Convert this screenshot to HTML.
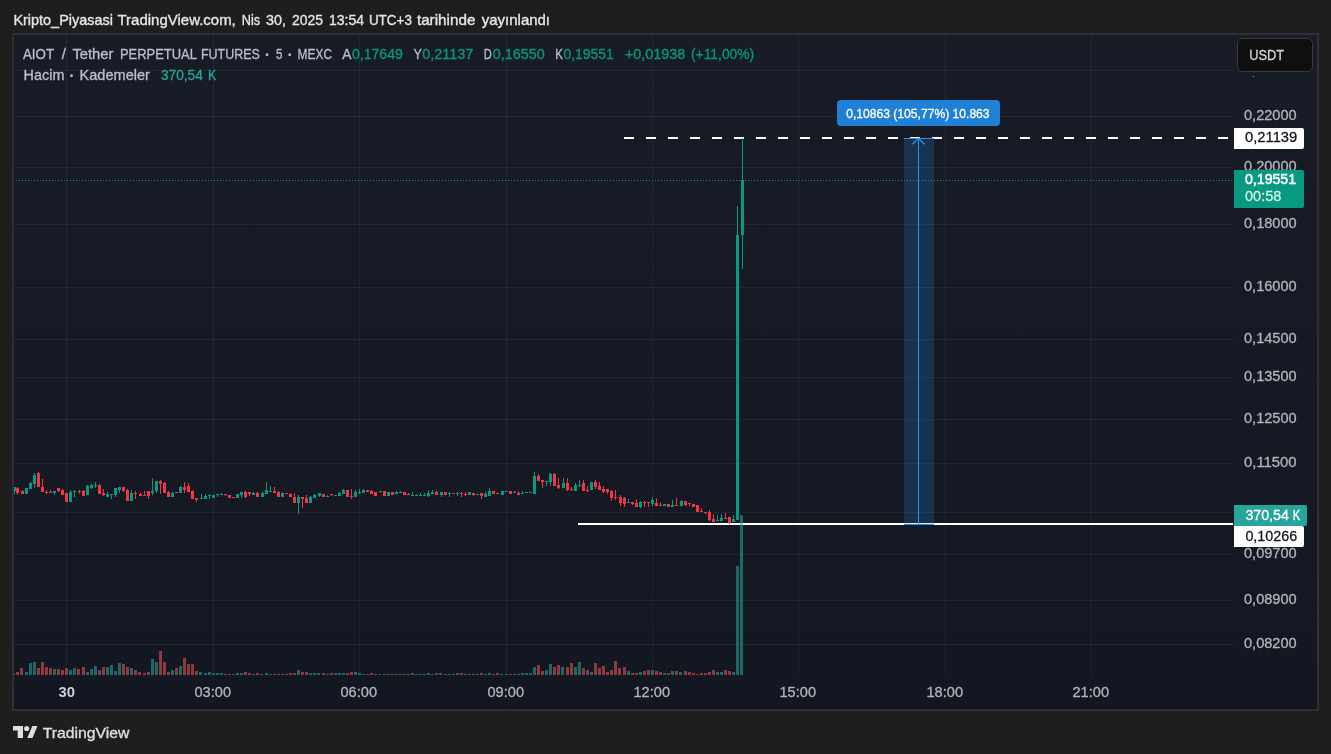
<!DOCTYPE html>
<html lang="tr"><head><meta charset="utf-8"><title>AIOT / Tether PERPETUAL FUTURES</title>
<style>
html,body{margin:0;padding:0;background:#1e1e1e;}
body{width:1331px;height:754px;overflow:hidden;position:relative;font-family:"Liberation Sans",sans-serif;}
svg{position:absolute;left:0;top:0;display:block;will-change:transform}
text{font-family:"Liberation Sans",sans-serif;white-space:pre}
</style></head><body>
<svg width="1331" height="754" viewBox="0 0 1331 754">
<defs>
<linearGradient id="bg" x1="0" y1="0" x2="0" y2="1"><stop offset="0" stop-color="#181c27"/><stop offset="1" stop-color="#131722"/></linearGradient>
<clipPath id="pane"><rect x="14" y="35" width="1219" height="640"/></clipPath>
<pattern id="dots" x="1" y="0" width="3" height="1" patternUnits="userSpaceOnUse"><rect x="0" y="0" width="1" height="1" fill="#089981"/></pattern>
</defs>
<rect x="0" y="0" width="1331" height="754" fill="#1e1e1e"/>
<rect x="12" y="33" width="1307" height="678" fill="#303034"/>
<rect x="14" y="35" width="1303" height="674" fill="url(#bg)"/>
<g shape-rendering="crispEdges" fill="rgba(240,243,250,0.06)">
<rect x="66" y="35" width="1" height="640"/>
<rect x="213" y="35" width="1" height="640"/>
<rect x="359" y="35" width="1" height="640"/>
<rect x="506" y="35" width="1" height="640"/>
<rect x="652" y="35" width="1" height="640"/>
<rect x="798" y="35" width="1" height="640"/>
<rect x="945" y="35" width="1" height="640"/>
<rect x="1091" y="35" width="1" height="640"/>
<rect x="14" y="70" width="1219" height="1"/>
<rect x="14" y="116" width="1219" height="1"/>
<rect x="14" y="167" width="1219" height="1"/>
<rect x="14" y="224" width="1219" height="1"/>
<rect x="14" y="287" width="1219" height="1"/>
<rect x="14" y="339" width="1219" height="1"/>
<rect x="14" y="377" width="1219" height="1"/>
<rect x="14" y="419" width="1219" height="1"/>
<rect x="14" y="463" width="1219" height="1"/>
<rect x="14" y="512" width="1219" height="1"/>
<rect x="14" y="554" width="1219" height="1"/>
<rect x="14" y="600" width="1219" height="1"/>
<rect x="14" y="644" width="1219" height="1"/>
</g>
<g shape-rendering="crispEdges">
<rect x="578" y="523" width="655" height="2" fill="#ffffff"/>
</g>
<g shape-rendering="crispEdges" fill="#ffffff">
<rect x="624" y="137" width="10" height="2"/>
<rect x="646" y="137" width="10" height="2"/>
<rect x="668" y="137" width="10" height="2"/>
<rect x="690" y="137" width="10" height="2"/>
<rect x="712" y="137" width="10" height="2"/>
<rect x="734" y="137" width="10" height="2"/>
<rect x="756" y="137" width="10" height="2"/>
<rect x="778" y="137" width="10" height="2"/>
<rect x="800" y="137" width="10" height="2"/>
<rect x="822" y="137" width="10" height="2"/>
<rect x="844" y="137" width="10" height="2"/>
<rect x="866" y="137" width="10" height="2"/>
<rect x="888" y="137" width="10" height="2"/>
<rect x="910" y="137" width="10" height="2"/>
<rect x="932" y="137" width="10" height="2"/>
<rect x="954" y="137" width="10" height="2"/>
<rect x="976" y="137" width="10" height="2"/>
<rect x="998" y="137" width="10" height="2"/>
<rect x="1020" y="137" width="10" height="2"/>
<rect x="1042" y="137" width="10" height="2"/>
<rect x="1064" y="137" width="10" height="2"/>
<rect x="1086" y="137" width="10" height="2"/>
<rect x="1108" y="137" width="10" height="2"/>
<rect x="1130" y="137" width="10" height="2"/>
<rect x="1152" y="137" width="10" height="2"/>
<rect x="1174" y="137" width="10" height="2"/>
<rect x="1196" y="137" width="10" height="2"/>
<rect x="1218" y="137" width="10" height="2"/>
</g>
<g shape-rendering="crispEdges" clip-path="url(#pane)">
<rect x="12" y="673" width="3" height="2" fill="rgba(38,166,154,0.57)"/>
<rect x="16" y="672" width="3" height="3" fill="rgba(239,83,80,0.57)"/>
<rect x="20" y="668" width="3" height="7" fill="rgba(239,83,80,0.57)"/>
<rect x="25" y="672" width="3" height="3" fill="rgba(38,166,154,0.57)"/>
<rect x="29" y="663" width="3" height="12" fill="rgba(38,166,154,0.57)"/>
<rect x="33" y="662" width="3" height="13" fill="rgba(38,166,154,0.57)"/>
<rect x="37" y="668" width="3" height="7" fill="rgba(239,83,80,0.57)"/>
<rect x="41" y="662" width="3" height="13" fill="rgba(239,83,80,0.57)"/>
<rect x="45" y="667" width="3" height="8" fill="rgba(239,83,80,0.57)"/>
<rect x="49" y="668" width="3" height="7" fill="rgba(239,83,80,0.57)"/>
<rect x="53" y="669" width="3" height="6" fill="rgba(38,166,154,0.57)"/>
<rect x="57" y="669" width="3" height="6" fill="rgba(239,83,80,0.57)"/>
<rect x="61" y="670" width="3" height="5" fill="rgba(239,83,80,0.57)"/>
<rect x="65" y="668" width="3" height="7" fill="rgba(239,83,80,0.57)"/>
<rect x="69" y="670" width="3" height="5" fill="rgba(38,166,154,0.57)"/>
<rect x="73" y="668" width="3" height="7" fill="rgba(38,166,154,0.57)"/>
<rect x="77" y="669" width="3" height="6" fill="rgba(239,83,80,0.57)"/>
<rect x="82" y="667" width="3" height="8" fill="rgba(239,83,80,0.57)"/>
<rect x="86" y="672" width="3" height="3" fill="rgba(38,166,154,0.57)"/>
<rect x="90" y="669" width="3" height="6" fill="rgba(38,166,154,0.57)"/>
<rect x="94" y="666" width="3" height="9" fill="rgba(38,166,154,0.57)"/>
<rect x="98" y="670" width="3" height="5" fill="rgba(239,83,80,0.57)"/>
<rect x="102" y="667" width="3" height="8" fill="rgba(239,83,80,0.57)"/>
<rect x="106" y="667" width="3" height="8" fill="rgba(38,166,154,0.57)"/>
<rect x="110" y="665" width="3" height="10" fill="rgba(38,166,154,0.57)"/>
<rect x="114" y="671" width="3" height="4" fill="rgba(38,166,154,0.57)"/>
<rect x="118" y="663" width="3" height="12" fill="rgba(38,166,154,0.57)"/>
<rect x="122" y="664" width="3" height="11" fill="rgba(239,83,80,0.57)"/>
<rect x="126" y="667" width="3" height="8" fill="rgba(239,83,80,0.57)"/>
<rect x="130" y="668" width="3" height="7" fill="rgba(38,166,154,0.57)"/>
<rect x="134" y="670" width="3" height="5" fill="rgba(239,83,80,0.57)"/>
<rect x="138" y="672" width="3" height="3" fill="rgba(239,83,80,0.57)"/>
<rect x="143" y="673" width="3" height="2" fill="rgba(239,83,80,0.57)"/>
<rect x="147" y="672" width="3" height="3" fill="rgba(239,83,80,0.57)"/>
<rect x="151" y="659" width="3" height="16" fill="rgba(38,166,154,0.57)"/>
<rect x="155" y="662" width="3" height="13" fill="rgba(38,166,154,0.57)"/>
<rect x="159" y="651" width="3" height="24" fill="rgba(239,83,80,0.57)"/>
<rect x="163" y="662" width="3" height="13" fill="rgba(239,83,80,0.57)"/>
<rect x="167" y="672" width="3" height="3" fill="rgba(239,83,80,0.57)"/>
<rect x="171" y="670" width="3" height="5" fill="rgba(38,166,154,0.57)"/>
<rect x="175" y="668" width="3" height="7" fill="rgba(239,83,80,0.57)"/>
<rect x="179" y="666" width="3" height="9" fill="rgba(38,166,154,0.57)"/>
<rect x="183" y="658" width="3" height="17" fill="rgba(239,83,80,0.57)"/>
<rect x="187" y="664" width="3" height="11" fill="rgba(239,83,80,0.57)"/>
<rect x="191" y="664" width="3" height="11" fill="rgba(239,83,80,0.57)"/>
<rect x="195" y="671" width="3" height="4" fill="rgba(239,83,80,0.57)"/>
<rect x="199" y="672" width="3" height="3" fill="rgba(38,166,154,0.57)"/>
<rect x="204" y="673" width="3" height="2" fill="rgba(38,166,154,0.57)"/>
<rect x="208" y="672" width="3" height="3" fill="rgba(38,166,154,0.57)"/>
<rect x="212" y="673" width="3" height="2" fill="rgba(38,166,154,0.57)"/>
<rect x="216" y="673" width="3" height="2" fill="rgba(38,166,154,0.57)"/>
<rect x="220" y="673" width="3" height="2" fill="rgba(38,166,154,0.57)"/>
<rect x="224" y="674" width="3" height="1" fill="rgba(239,83,80,0.57)"/>
<rect x="228" y="674" width="3" height="1" fill="rgba(239,83,80,0.57)"/>
<rect x="232" y="674" width="3" height="1" fill="rgba(239,83,80,0.57)"/>
<rect x="236" y="673" width="3" height="2" fill="rgba(38,166,154,0.57)"/>
<rect x="240" y="673" width="3" height="2" fill="rgba(38,166,154,0.57)"/>
<rect x="244" y="672" width="3" height="3" fill="rgba(239,83,80,0.57)"/>
<rect x="248" y="673" width="3" height="2" fill="rgba(239,83,80,0.57)"/>
<rect x="252" y="674" width="3" height="1" fill="rgba(38,166,154,0.57)"/>
<rect x="256" y="673" width="3" height="2" fill="rgba(239,83,80,0.57)"/>
<rect x="260" y="674" width="3" height="1" fill="rgba(38,166,154,0.57)"/>
<rect x="265" y="673" width="3" height="2" fill="rgba(38,166,154,0.57)"/>
<rect x="269" y="674" width="3" height="1" fill="rgba(38,166,154,0.57)"/>
<rect x="273" y="674" width="3" height="1" fill="rgba(239,83,80,0.57)"/>
<rect x="277" y="674" width="3" height="1" fill="rgba(239,83,80,0.57)"/>
<rect x="281" y="674" width="3" height="1" fill="rgba(38,166,154,0.57)"/>
<rect x="285" y="674" width="3" height="1" fill="rgba(239,83,80,0.57)"/>
<rect x="289" y="673" width="3" height="2" fill="rgba(239,83,80,0.57)"/>
<rect x="293" y="673" width="3" height="2" fill="rgba(239,83,80,0.57)"/>
<rect x="297" y="670" width="3" height="5" fill="rgba(38,166,154,0.57)"/>
<rect x="301" y="672" width="3" height="3" fill="rgba(239,83,80,0.57)"/>
<rect x="305" y="672" width="3" height="3" fill="rgba(239,83,80,0.57)"/>
<rect x="309" y="673" width="3" height="2" fill="rgba(38,166,154,0.57)"/>
<rect x="313" y="673" width="3" height="2" fill="rgba(38,166,154,0.57)"/>
<rect x="317" y="673" width="3" height="2" fill="rgba(38,166,154,0.57)"/>
<rect x="322" y="673" width="3" height="2" fill="rgba(239,83,80,0.57)"/>
<rect x="326" y="674" width="3" height="1" fill="rgba(38,166,154,0.57)"/>
<rect x="330" y="673" width="3" height="2" fill="rgba(239,83,80,0.57)"/>
<rect x="334" y="673" width="3" height="2" fill="rgba(38,166,154,0.57)"/>
<rect x="338" y="673" width="3" height="2" fill="rgba(38,166,154,0.57)"/>
<rect x="342" y="673" width="3" height="2" fill="rgba(38,166,154,0.57)"/>
<rect x="346" y="673" width="3" height="2" fill="rgba(239,83,80,0.57)"/>
<rect x="350" y="672" width="3" height="3" fill="rgba(239,83,80,0.57)"/>
<rect x="354" y="672" width="3" height="3" fill="rgba(38,166,154,0.57)"/>
<rect x="358" y="673" width="3" height="2" fill="rgba(38,166,154,0.57)"/>
<rect x="362" y="674" width="3" height="1" fill="rgba(38,166,154,0.57)"/>
<rect x="366" y="674" width="3" height="1" fill="rgba(239,83,80,0.57)"/>
<rect x="370" y="673" width="3" height="2" fill="rgba(239,83,80,0.57)"/>
<rect x="374" y="674" width="3" height="1" fill="rgba(239,83,80,0.57)"/>
<rect x="378" y="674" width="3" height="1" fill="rgba(38,166,154,0.57)"/>
<rect x="383" y="674" width="3" height="1" fill="rgba(239,83,80,0.57)"/>
<rect x="387" y="674" width="3" height="1" fill="rgba(38,166,154,0.57)"/>
<rect x="391" y="674" width="3" height="1" fill="rgba(239,83,80,0.57)"/>
<rect x="395" y="674" width="3" height="1" fill="rgba(38,166,154,0.57)"/>
<rect x="399" y="674" width="3" height="1" fill="rgba(38,166,154,0.57)"/>
<rect x="403" y="674" width="3" height="1" fill="rgba(239,83,80,0.57)"/>
<rect x="407" y="674" width="3" height="1" fill="rgba(239,83,80,0.57)"/>
<rect x="411" y="673" width="3" height="2" fill="rgba(38,166,154,0.57)"/>
<rect x="415" y="674" width="3" height="1" fill="rgba(38,166,154,0.57)"/>
<rect x="419" y="674" width="3" height="1" fill="rgba(38,166,154,0.57)"/>
<rect x="423" y="674" width="3" height="1" fill="rgba(38,166,154,0.57)"/>
<rect x="427" y="673" width="3" height="2" fill="rgba(38,166,154,0.57)"/>
<rect x="431" y="674" width="3" height="1" fill="rgba(38,166,154,0.57)"/>
<rect x="435" y="673" width="3" height="2" fill="rgba(239,83,80,0.57)"/>
<rect x="439" y="673" width="3" height="2" fill="rgba(38,166,154,0.57)"/>
<rect x="444" y="674" width="3" height="1" fill="rgba(239,83,80,0.57)"/>
<rect x="448" y="674" width="3" height="1" fill="rgba(38,166,154,0.57)"/>
<rect x="452" y="674" width="3" height="1" fill="rgba(239,83,80,0.57)"/>
<rect x="456" y="673" width="3" height="2" fill="rgba(38,166,154,0.57)"/>
<rect x="460" y="673" width="3" height="2" fill="rgba(239,83,80,0.57)"/>
<rect x="464" y="674" width="3" height="1" fill="rgba(239,83,80,0.57)"/>
<rect x="468" y="674" width="3" height="1" fill="rgba(38,166,154,0.57)"/>
<rect x="472" y="674" width="3" height="1" fill="rgba(239,83,80,0.57)"/>
<rect x="476" y="674" width="3" height="1" fill="rgba(38,166,154,0.57)"/>
<rect x="480" y="673" width="3" height="2" fill="rgba(239,83,80,0.57)"/>
<rect x="484" y="674" width="3" height="1" fill="rgba(38,166,154,0.57)"/>
<rect x="488" y="673" width="3" height="2" fill="rgba(38,166,154,0.57)"/>
<rect x="492" y="674" width="3" height="1" fill="rgba(239,83,80,0.57)"/>
<rect x="496" y="673" width="3" height="2" fill="rgba(239,83,80,0.57)"/>
<rect x="500" y="674" width="3" height="1" fill="rgba(38,166,154,0.57)"/>
<rect x="505" y="674" width="3" height="1" fill="rgba(38,166,154,0.57)"/>
<rect x="509" y="674" width="3" height="1" fill="rgba(239,83,80,0.57)"/>
<rect x="513" y="674" width="3" height="1" fill="rgba(38,166,154,0.57)"/>
<rect x="517" y="674" width="3" height="1" fill="rgba(239,83,80,0.57)"/>
<rect x="521" y="673" width="3" height="2" fill="rgba(38,166,154,0.57)"/>
<rect x="525" y="673" width="3" height="2" fill="rgba(38,166,154,0.57)"/>
<rect x="529" y="673" width="3" height="2" fill="rgba(38,166,154,0.57)"/>
<rect x="533" y="667" width="3" height="8" fill="rgba(38,166,154,0.57)"/>
<rect x="537" y="665" width="3" height="10" fill="rgba(239,83,80,0.57)"/>
<rect x="541" y="671" width="3" height="4" fill="rgba(239,83,80,0.57)"/>
<rect x="545" y="670" width="3" height="5" fill="rgba(38,166,154,0.57)"/>
<rect x="549" y="664" width="3" height="11" fill="rgba(38,166,154,0.57)"/>
<rect x="553" y="667" width="3" height="8" fill="rgba(239,83,80,0.57)"/>
<rect x="557" y="665" width="3" height="10" fill="rgba(239,83,80,0.57)"/>
<rect x="561" y="667" width="3" height="8" fill="rgba(38,166,154,0.57)"/>
<rect x="566" y="667" width="3" height="8" fill="rgba(239,83,80,0.57)"/>
<rect x="570" y="663" width="3" height="12" fill="rgba(239,83,80,0.57)"/>
<rect x="574" y="667" width="3" height="8" fill="rgba(38,166,154,0.57)"/>
<rect x="578" y="662" width="3" height="13" fill="rgba(38,166,154,0.57)"/>
<rect x="582" y="668" width="3" height="7" fill="rgba(239,83,80,0.57)"/>
<rect x="586" y="670" width="3" height="5" fill="rgba(239,83,80,0.57)"/>
<rect x="590" y="672" width="3" height="3" fill="rgba(38,166,154,0.57)"/>
<rect x="594" y="663" width="3" height="12" fill="rgba(239,83,80,0.57)"/>
<rect x="598" y="668" width="3" height="7" fill="rgba(239,83,80,0.57)"/>
<rect x="602" y="666" width="3" height="9" fill="rgba(239,83,80,0.57)"/>
<rect x="606" y="672" width="3" height="3" fill="rgba(239,83,80,0.57)"/>
<rect x="610" y="670" width="3" height="5" fill="rgba(239,83,80,0.57)"/>
<rect x="614" y="661" width="3" height="14" fill="rgba(239,83,80,0.57)"/>
<rect x="618" y="668" width="3" height="7" fill="rgba(239,83,80,0.57)"/>
<rect x="623" y="667" width="3" height="8" fill="rgba(239,83,80,0.57)"/>
<rect x="627" y="671" width="3" height="4" fill="rgba(38,166,154,0.57)"/>
<rect x="631" y="673" width="3" height="2" fill="rgba(239,83,80,0.57)"/>
<rect x="635" y="673" width="3" height="2" fill="rgba(239,83,80,0.57)"/>
<rect x="639" y="672" width="3" height="3" fill="rgba(38,166,154,0.57)"/>
<rect x="643" y="671" width="3" height="4" fill="rgba(239,83,80,0.57)"/>
<rect x="647" y="670" width="3" height="5" fill="rgba(239,83,80,0.57)"/>
<rect x="651" y="670" width="3" height="5" fill="rgba(38,166,154,0.57)"/>
<rect x="655" y="671" width="3" height="4" fill="rgba(239,83,80,0.57)"/>
<rect x="659" y="672" width="3" height="3" fill="rgba(239,83,80,0.57)"/>
<rect x="663" y="673" width="3" height="2" fill="rgba(38,166,154,0.57)"/>
<rect x="667" y="673" width="3" height="2" fill="rgba(239,83,80,0.57)"/>
<rect x="671" y="671" width="3" height="4" fill="rgba(38,166,154,0.57)"/>
<rect x="675" y="671" width="3" height="4" fill="rgba(239,83,80,0.57)"/>
<rect x="679" y="672" width="3" height="3" fill="rgba(38,166,154,0.57)"/>
<rect x="684" y="671" width="3" height="4" fill="rgba(239,83,80,0.57)"/>
<rect x="688" y="672" width="3" height="3" fill="rgba(239,83,80,0.57)"/>
<rect x="692" y="673" width="3" height="2" fill="rgba(239,83,80,0.57)"/>
<rect x="696" y="674" width="3" height="1" fill="rgba(239,83,80,0.57)"/>
<rect x="700" y="673" width="3" height="2" fill="rgba(239,83,80,0.57)"/>
<rect x="704" y="673" width="3" height="2" fill="rgba(239,83,80,0.57)"/>
<rect x="708" y="672" width="3" height="3" fill="rgba(239,83,80,0.57)"/>
<rect x="712" y="670" width="3" height="5" fill="rgba(239,83,80,0.57)"/>
<rect x="716" y="672" width="3" height="3" fill="rgba(38,166,154,0.57)"/>
<rect x="720" y="672" width="3" height="3" fill="rgba(38,166,154,0.57)"/>
<rect x="724" y="670" width="3" height="5" fill="rgba(239,83,80,0.57)"/>
<rect x="728" y="671" width="3" height="4" fill="rgba(239,83,80,0.57)"/>
<rect x="732" y="672" width="3" height="3" fill="rgba(38,166,154,0.57)"/>
<rect x="736" y="566" width="3" height="109" fill="rgba(38,166,154,0.57)"/>
<rect x="740" y="515" width="3" height="160" fill="rgba(38,166,154,0.57)"/>
</g>
<g shape-rendering="crispEdges" clip-path="url(#pane)">
<rect x="14" y="487" width="1" height="7" fill="#089981"/>
<rect x="13" y="487" width="3" height="4" fill="#089981"/>
<rect x="17" y="487" width="1" height="8" fill="#f23645"/>
<rect x="16" y="488" width="3" height="5" fill="#f23645"/>
<rect x="22" y="490" width="1" height="4" fill="#f23645"/>
<rect x="21" y="491" width="3" height="3" fill="#f23645"/>
<rect x="25" y="488" width="3" height="6" fill="#089981"/>
<rect x="30" y="482" width="1" height="7" fill="#089981"/>
<rect x="29" y="483" width="3" height="6" fill="#089981"/>
<rect x="34" y="473" width="1" height="15" fill="#089981"/>
<rect x="33" y="475" width="3" height="9" fill="#089981"/>
<rect x="38" y="472" width="1" height="15" fill="#f23645"/>
<rect x="37" y="473" width="3" height="14" fill="#f23645"/>
<rect x="42" y="479" width="1" height="13" fill="#f23645"/>
<rect x="41" y="487" width="3" height="5" fill="#f23645"/>
<rect x="46" y="490" width="1" height="4" fill="#f23645"/>
<rect x="45" y="492" width="3" height="1" fill="#f23645"/>
<rect x="50" y="490" width="1" height="3" fill="#f23645"/>
<rect x="49" y="492" width="3" height="1" fill="#f23645"/>
<rect x="54" y="491" width="1" height="4" fill="#089981"/>
<rect x="53" y="491" width="3" height="2" fill="#089981"/>
<rect x="58" y="488" width="1" height="4" fill="#f23645"/>
<rect x="57" y="488" width="3" height="3" fill="#f23645"/>
<rect x="62" y="489" width="1" height="6" fill="#f23645"/>
<rect x="61" y="490" width="3" height="5" fill="#f23645"/>
<rect x="65" y="493" width="3" height="9" fill="#f23645"/>
<rect x="70" y="490" width="1" height="12" fill="#089981"/>
<rect x="69" y="492" width="3" height="10" fill="#089981"/>
<rect x="74" y="490" width="1" height="7" fill="#089981"/>
<rect x="73" y="491" width="3" height="1" fill="#089981"/>
<rect x="79" y="490" width="1" height="4" fill="#f23645"/>
<rect x="78" y="491" width="3" height="1" fill="#f23645"/>
<rect x="83" y="490" width="1" height="6" fill="#f23645"/>
<rect x="82" y="491" width="3" height="5" fill="#f23645"/>
<rect x="87" y="485" width="1" height="10" fill="#089981"/>
<rect x="86" y="486" width="3" height="9" fill="#089981"/>
<rect x="91" y="484" width="1" height="5" fill="#089981"/>
<rect x="90" y="485" width="3" height="3" fill="#089981"/>
<rect x="95" y="482" width="1" height="6" fill="#089981"/>
<rect x="94" y="485" width="3" height="1" fill="#089981"/>
<rect x="99" y="484" width="1" height="10" fill="#f23645"/>
<rect x="98" y="485" width="3" height="9" fill="#f23645"/>
<rect x="103" y="489" width="1" height="7" fill="#f23645"/>
<rect x="102" y="493" width="3" height="2" fill="#f23645"/>
<rect x="107" y="492" width="1" height="5" fill="#089981"/>
<rect x="106" y="494" width="3" height="3" fill="#089981"/>
<rect x="111" y="494" width="1" height="5" fill="#089981"/>
<rect x="110" y="494" width="3" height="1" fill="#089981"/>
<rect x="115" y="488" width="1" height="9" fill="#089981"/>
<rect x="114" y="488" width="3" height="7" fill="#089981"/>
<rect x="119" y="487" width="1" height="6" fill="#089981"/>
<rect x="118" y="487" width="3" height="3" fill="#089981"/>
<rect x="123" y="487" width="1" height="5" fill="#f23645"/>
<rect x="122" y="487" width="3" height="4" fill="#f23645"/>
<rect x="127" y="489" width="1" height="12" fill="#f23645"/>
<rect x="126" y="490" width="3" height="11" fill="#f23645"/>
<rect x="131" y="490" width="1" height="11" fill="#089981"/>
<rect x="130" y="493" width="3" height="8" fill="#089981"/>
<rect x="135" y="491" width="1" height="8" fill="#f23645"/>
<rect x="134" y="493" width="3" height="1" fill="#f23645"/>
<rect x="140" y="493" width="1" height="3" fill="#f23645"/>
<rect x="139" y="494" width="3" height="2" fill="#f23645"/>
<rect x="144" y="491" width="1" height="5" fill="#f23645"/>
<rect x="143" y="495" width="3" height="1" fill="#f23645"/>
<rect x="148" y="491" width="1" height="8" fill="#f23645"/>
<rect x="147" y="491" width="3" height="5" fill="#f23645"/>
<rect x="152" y="478" width="1" height="17" fill="#089981"/>
<rect x="151" y="491" width="3" height="2" fill="#089981"/>
<rect x="156" y="481" width="1" height="12" fill="#089981"/>
<rect x="155" y="481" width="3" height="10" fill="#089981"/>
<rect x="160" y="480" width="1" height="14" fill="#f23645"/>
<rect x="159" y="481" width="3" height="3" fill="#f23645"/>
<rect x="164" y="482" width="1" height="11" fill="#f23645"/>
<rect x="163" y="483" width="3" height="10" fill="#f23645"/>
<rect x="168" y="491" width="1" height="6" fill="#f23645"/>
<rect x="167" y="492" width="3" height="5" fill="#f23645"/>
<rect x="172" y="492" width="1" height="5" fill="#089981"/>
<rect x="171" y="493" width="3" height="4" fill="#089981"/>
<rect x="175" y="492" width="3" height="1" fill="#f23645"/>
<rect x="180" y="486" width="1" height="7" fill="#089981"/>
<rect x="179" y="487" width="3" height="6" fill="#089981"/>
<rect x="184" y="482" width="1" height="11" fill="#f23645"/>
<rect x="183" y="487" width="3" height="3" fill="#f23645"/>
<rect x="188" y="483" width="1" height="9" fill="#f23645"/>
<rect x="187" y="486" width="3" height="6" fill="#f23645"/>
<rect x="192" y="490" width="1" height="9" fill="#f23645"/>
<rect x="191" y="491" width="3" height="8" fill="#f23645"/>
<rect x="196" y="498" width="1" height="4" fill="#f23645"/>
<rect x="195" y="498" width="3" height="2" fill="#f23645"/>
<rect x="201" y="494" width="1" height="5" fill="#089981"/>
<rect x="200" y="498" width="3" height="1" fill="#089981"/>
<rect x="205" y="494" width="1" height="5" fill="#089981"/>
<rect x="204" y="496" width="3" height="3" fill="#089981"/>
<rect x="209" y="494" width="1" height="5" fill="#089981"/>
<rect x="208" y="495" width="3" height="1" fill="#089981"/>
<rect x="212" y="495" width="3" height="3" fill="#089981"/>
<rect x="217" y="494" width="1" height="3" fill="#089981"/>
<rect x="216" y="494" width="3" height="1" fill="#089981"/>
<rect x="221" y="493" width="1" height="2" fill="#089981"/>
<rect x="220" y="494" width="3" height="1" fill="#089981"/>
<rect x="225" y="494" width="1" height="2" fill="#f23645"/>
<rect x="224" y="494" width="3" height="1" fill="#f23645"/>
<rect x="228" y="495" width="3" height="3" fill="#f23645"/>
<rect x="232" y="497" width="3" height="1" fill="#f23645"/>
<rect x="236" y="494" width="3" height="4" fill="#089981"/>
<rect x="241" y="492" width="1" height="6" fill="#089981"/>
<rect x="240" y="492" width="3" height="3" fill="#089981"/>
<rect x="245" y="491" width="1" height="7" fill="#f23645"/>
<rect x="244" y="492" width="3" height="5" fill="#f23645"/>
<rect x="249" y="492" width="1" height="4" fill="#f23645"/>
<rect x="248" y="492" width="3" height="2" fill="#f23645"/>
<rect x="253" y="492" width="1" height="3" fill="#089981"/>
<rect x="252" y="493" width="3" height="2" fill="#089981"/>
<rect x="257" y="492" width="1" height="5" fill="#f23645"/>
<rect x="256" y="493" width="3" height="4" fill="#f23645"/>
<rect x="262" y="492" width="1" height="5" fill="#089981"/>
<rect x="261" y="493" width="3" height="4" fill="#089981"/>
<rect x="266" y="482" width="1" height="12" fill="#089981"/>
<rect x="265" y="490" width="3" height="4" fill="#089981"/>
<rect x="270" y="486" width="1" height="6" fill="#089981"/>
<rect x="269" y="491" width="3" height="1" fill="#089981"/>
<rect x="274" y="487" width="1" height="6" fill="#f23645"/>
<rect x="273" y="491" width="3" height="2" fill="#f23645"/>
<rect x="278" y="491" width="1" height="6" fill="#f23645"/>
<rect x="277" y="492" width="3" height="5" fill="#f23645"/>
<rect x="282" y="492" width="1" height="5" fill="#089981"/>
<rect x="281" y="493" width="3" height="4" fill="#089981"/>
<rect x="285" y="493" width="3" height="1" fill="#f23645"/>
<rect x="290" y="493" width="1" height="4" fill="#f23645"/>
<rect x="289" y="494" width="3" height="3" fill="#f23645"/>
<rect x="294" y="493" width="1" height="10" fill="#f23645"/>
<rect x="293" y="497" width="3" height="6" fill="#f23645"/>
<rect x="298" y="495" width="1" height="19" fill="#089981"/>
<rect x="297" y="497" width="3" height="6" fill="#089981"/>
<rect x="302" y="497" width="1" height="11" fill="#f23645"/>
<rect x="301" y="497" width="3" height="2" fill="#f23645"/>
<rect x="306" y="495" width="1" height="8" fill="#f23645"/>
<rect x="305" y="498" width="3" height="5" fill="#f23645"/>
<rect x="310" y="496" width="1" height="7" fill="#089981"/>
<rect x="309" y="497" width="3" height="6" fill="#089981"/>
<rect x="314" y="494" width="1" height="4" fill="#089981"/>
<rect x="313" y="495" width="3" height="3" fill="#089981"/>
<rect x="319" y="493" width="1" height="4" fill="#089981"/>
<rect x="318" y="493" width="3" height="3" fill="#089981"/>
<rect x="322" y="494" width="3" height="3" fill="#f23645"/>
<rect x="327" y="495" width="1" height="2" fill="#089981"/>
<rect x="326" y="496" width="3" height="1" fill="#089981"/>
<rect x="331" y="494" width="1" height="2" fill="#f23645"/>
<rect x="330" y="494" width="3" height="1" fill="#f23645"/>
<rect x="334" y="495" width="3" height="1" fill="#089981"/>
<rect x="339" y="492" width="1" height="4" fill="#089981"/>
<rect x="338" y="493" width="3" height="3" fill="#089981"/>
<rect x="343" y="489" width="1" height="5" fill="#089981"/>
<rect x="342" y="490" width="3" height="4" fill="#089981"/>
<rect x="346" y="490" width="3" height="7" fill="#f23645"/>
<rect x="351" y="489" width="1" height="10" fill="#f23645"/>
<rect x="350" y="496" width="3" height="1" fill="#f23645"/>
<rect x="355" y="490" width="1" height="7" fill="#089981"/>
<rect x="354" y="492" width="3" height="5" fill="#089981"/>
<rect x="359" y="489" width="1" height="5" fill="#089981"/>
<rect x="358" y="492" width="3" height="1" fill="#089981"/>
<rect x="363" y="489" width="1" height="4" fill="#089981"/>
<rect x="362" y="490" width="3" height="3" fill="#089981"/>
<rect x="366" y="490" width="3" height="2" fill="#f23645"/>
<rect x="371" y="490" width="1" height="4" fill="#f23645"/>
<rect x="370" y="491" width="3" height="3" fill="#f23645"/>
<rect x="374" y="492" width="3" height="4" fill="#f23645"/>
<rect x="380" y="491" width="1" height="2" fill="#089981"/>
<rect x="379" y="491" width="3" height="1" fill="#089981"/>
<rect x="383" y="491" width="3" height="5" fill="#f23645"/>
<rect x="387" y="492" width="3" height="4" fill="#089981"/>
<rect x="391" y="492" width="3" height="3" fill="#f23645"/>
<rect x="396" y="491" width="1" height="3" fill="#089981"/>
<rect x="395" y="492" width="3" height="2" fill="#089981"/>
<rect x="400" y="491" width="1" height="2" fill="#089981"/>
<rect x="399" y="492" width="3" height="1" fill="#089981"/>
<rect x="403" y="492" width="3" height="3" fill="#f23645"/>
<rect x="408" y="493" width="1" height="2" fill="#f23645"/>
<rect x="407" y="494" width="3" height="1" fill="#f23645"/>
<rect x="412" y="492" width="1" height="4" fill="#089981"/>
<rect x="411" y="495" width="3" height="1" fill="#089981"/>
<rect x="416" y="494" width="1" height="2" fill="#089981"/>
<rect x="415" y="495" width="3" height="1" fill="#089981"/>
<rect x="420" y="493" width="1" height="3" fill="#089981"/>
<rect x="419" y="495" width="3" height="1" fill="#089981"/>
<rect x="424" y="493" width="1" height="3" fill="#089981"/>
<rect x="423" y="495" width="3" height="1" fill="#089981"/>
<rect x="428" y="490" width="1" height="7" fill="#089981"/>
<rect x="427" y="493" width="3" height="3" fill="#089981"/>
<rect x="432" y="490" width="1" height="4" fill="#089981"/>
<rect x="431" y="492" width="3" height="2" fill="#089981"/>
<rect x="436" y="491" width="1" height="4" fill="#f23645"/>
<rect x="435" y="492" width="3" height="3" fill="#f23645"/>
<rect x="441" y="492" width="1" height="5" fill="#089981"/>
<rect x="440" y="492" width="3" height="3" fill="#089981"/>
<rect x="444" y="492" width="3" height="3" fill="#f23645"/>
<rect x="449" y="492" width="1" height="5" fill="#089981"/>
<rect x="448" y="493" width="3" height="1" fill="#089981"/>
<rect x="452" y="493" width="3" height="1" fill="#f23645"/>
<rect x="457" y="492" width="1" height="4" fill="#089981"/>
<rect x="456" y="493" width="3" height="1" fill="#089981"/>
<rect x="461" y="492" width="1" height="5" fill="#f23645"/>
<rect x="460" y="493" width="3" height="1" fill="#f23645"/>
<rect x="465" y="492" width="1" height="4" fill="#f23645"/>
<rect x="464" y="494" width="3" height="1" fill="#f23645"/>
<rect x="468" y="492" width="3" height="3" fill="#089981"/>
<rect x="473" y="493" width="1" height="3" fill="#f23645"/>
<rect x="472" y="493" width="3" height="2" fill="#f23645"/>
<rect x="476" y="494" width="3" height="1" fill="#089981"/>
<rect x="481" y="493" width="1" height="6" fill="#f23645"/>
<rect x="480" y="493" width="3" height="3" fill="#f23645"/>
<rect x="485" y="492" width="1" height="5" fill="#089981"/>
<rect x="484" y="494" width="3" height="3" fill="#089981"/>
<rect x="489" y="488" width="1" height="8" fill="#089981"/>
<rect x="488" y="491" width="3" height="5" fill="#089981"/>
<rect x="492" y="491" width="3" height="3" fill="#f23645"/>
<rect x="496" y="493" width="3" height="1" fill="#f23645"/>
<rect x="501" y="491" width="3" height="4" fill="#089981"/>
<rect x="505" y="491" width="3" height="1" fill="#089981"/>
<rect x="509" y="491" width="3" height="3" fill="#f23645"/>
<rect x="514" y="491" width="1" height="2" fill="#089981"/>
<rect x="513" y="492" width="3" height="1" fill="#089981"/>
<rect x="518" y="491" width="1" height="4" fill="#f23645"/>
<rect x="517" y="493" width="3" height="2" fill="#f23645"/>
<rect x="522" y="491" width="1" height="3" fill="#089981"/>
<rect x="521" y="493" width="3" height="1" fill="#089981"/>
<rect x="525" y="492" width="3" height="1" fill="#089981"/>
<rect x="529" y="492" width="3" height="1" fill="#089981"/>
<rect x="534" y="472" width="1" height="22" fill="#089981"/>
<rect x="533" y="476" width="3" height="18" fill="#089981"/>
<rect x="538" y="474" width="1" height="7" fill="#f23645"/>
<rect x="537" y="476" width="3" height="5" fill="#f23645"/>
<rect x="542" y="480" width="1" height="8" fill="#f23645"/>
<rect x="541" y="480" width="3" height="2" fill="#f23645"/>
<rect x="546" y="481" width="1" height="5" fill="#089981"/>
<rect x="545" y="481" width="3" height="1" fill="#089981"/>
<rect x="550" y="473" width="1" height="13" fill="#089981"/>
<rect x="549" y="474" width="3" height="8" fill="#089981"/>
<rect x="554" y="473" width="1" height="13" fill="#f23645"/>
<rect x="553" y="474" width="3" height="12" fill="#f23645"/>
<rect x="558" y="478" width="1" height="11" fill="#f23645"/>
<rect x="557" y="485" width="3" height="3" fill="#f23645"/>
<rect x="563" y="478" width="1" height="10" fill="#089981"/>
<rect x="562" y="483" width="3" height="5" fill="#089981"/>
<rect x="567" y="478" width="1" height="13" fill="#f23645"/>
<rect x="566" y="483" width="3" height="7" fill="#f23645"/>
<rect x="571" y="487" width="1" height="4" fill="#f23645"/>
<rect x="570" y="489" width="3" height="1" fill="#f23645"/>
<rect x="575" y="483" width="1" height="8" fill="#089981"/>
<rect x="574" y="485" width="3" height="6" fill="#089981"/>
<rect x="579" y="480" width="1" height="7" fill="#089981"/>
<rect x="578" y="485" width="3" height="1" fill="#089981"/>
<rect x="583" y="480" width="1" height="11" fill="#f23645"/>
<rect x="582" y="483" width="3" height="8" fill="#f23645"/>
<rect x="587" y="486" width="1" height="6" fill="#f23645"/>
<rect x="586" y="490" width="3" height="1" fill="#f23645"/>
<rect x="590" y="482" width="3" height="8" fill="#089981"/>
<rect x="595" y="480" width="1" height="9" fill="#f23645"/>
<rect x="594" y="482" width="3" height="5" fill="#f23645"/>
<rect x="599" y="482" width="1" height="8" fill="#f23645"/>
<rect x="598" y="486" width="3" height="4" fill="#f23645"/>
<rect x="603" y="486" width="1" height="7" fill="#f23645"/>
<rect x="602" y="489" width="3" height="3" fill="#f23645"/>
<rect x="607" y="489" width="1" height="5" fill="#f23645"/>
<rect x="606" y="489" width="3" height="3" fill="#f23645"/>
<rect x="611" y="490" width="1" height="11" fill="#f23645"/>
<rect x="610" y="491" width="3" height="7" fill="#f23645"/>
<rect x="615" y="490" width="1" height="10" fill="#f23645"/>
<rect x="614" y="497" width="3" height="1" fill="#f23645"/>
<rect x="620" y="495" width="1" height="11" fill="#f23645"/>
<rect x="619" y="497" width="3" height="6" fill="#f23645"/>
<rect x="624" y="497" width="1" height="10" fill="#f23645"/>
<rect x="623" y="498" width="3" height="6" fill="#f23645"/>
<rect x="628" y="499" width="1" height="4" fill="#089981"/>
<rect x="627" y="502" width="3" height="1" fill="#089981"/>
<rect x="632" y="502" width="1" height="3" fill="#f23645"/>
<rect x="631" y="502" width="3" height="2" fill="#f23645"/>
<rect x="636" y="499" width="1" height="8" fill="#f23645"/>
<rect x="635" y="503" width="3" height="4" fill="#f23645"/>
<rect x="640" y="501" width="1" height="7" fill="#089981"/>
<rect x="639" y="502" width="3" height="5" fill="#089981"/>
<rect x="644" y="501" width="1" height="6" fill="#f23645"/>
<rect x="643" y="502" width="3" height="1" fill="#f23645"/>
<rect x="648" y="502" width="1" height="5" fill="#f23645"/>
<rect x="647" y="502" width="3" height="1" fill="#f23645"/>
<rect x="652" y="497" width="1" height="9" fill="#089981"/>
<rect x="651" y="500" width="3" height="4" fill="#089981"/>
<rect x="656" y="498" width="1" height="8" fill="#f23645"/>
<rect x="655" y="503" width="3" height="3" fill="#f23645"/>
<rect x="660" y="502" width="1" height="4" fill="#f23645"/>
<rect x="659" y="505" width="3" height="1" fill="#f23645"/>
<rect x="663" y="504" width="3" height="2" fill="#089981"/>
<rect x="667" y="504" width="3" height="3" fill="#f23645"/>
<rect x="672" y="500" width="1" height="7" fill="#089981"/>
<rect x="671" y="505" width="3" height="2" fill="#089981"/>
<rect x="676" y="498" width="1" height="8" fill="#f23645"/>
<rect x="675" y="505" width="3" height="1" fill="#f23645"/>
<rect x="681" y="500" width="1" height="6" fill="#089981"/>
<rect x="680" y="501" width="3" height="5" fill="#089981"/>
<rect x="685" y="501" width="1" height="5" fill="#f23645"/>
<rect x="684" y="501" width="3" height="4" fill="#f23645"/>
<rect x="689" y="503" width="1" height="3" fill="#f23645"/>
<rect x="688" y="503" width="3" height="1" fill="#f23645"/>
<rect x="692" y="504" width="3" height="3" fill="#f23645"/>
<rect x="696" y="505" width="3" height="7" fill="#f23645"/>
<rect x="701" y="508" width="1" height="4" fill="#f23645"/>
<rect x="700" y="511" width="3" height="1" fill="#f23645"/>
<rect x="705" y="512" width="1" height="2" fill="#f23645"/>
<rect x="704" y="512" width="3" height="1" fill="#f23645"/>
<rect x="709" y="510" width="1" height="11" fill="#f23645"/>
<rect x="708" y="512" width="3" height="8" fill="#f23645"/>
<rect x="713" y="514" width="1" height="8" fill="#f23645"/>
<rect x="712" y="519" width="3" height="3" fill="#f23645"/>
<rect x="717" y="515" width="1" height="6" fill="#089981"/>
<rect x="716" y="520" width="3" height="1" fill="#089981"/>
<rect x="721" y="514" width="1" height="7" fill="#089981"/>
<rect x="720" y="518" width="3" height="3" fill="#089981"/>
<rect x="725" y="513" width="1" height="6" fill="#f23645"/>
<rect x="724" y="518" width="3" height="1" fill="#f23645"/>
<rect x="729" y="517" width="1" height="7" fill="#f23645"/>
<rect x="728" y="517" width="3" height="6" fill="#f23645"/>
<rect x="733" y="515" width="1" height="7" fill="#089981"/>
<rect x="732" y="519" width="3" height="3" fill="#089981"/>
<rect x="737" y="206" width="1" height="314" fill="#089981"/>
<rect x="736" y="235" width="3" height="285" fill="#089981"/>
<rect x="742" y="138" width="1" height="131" fill="#089981"/>
<rect x="741" y="180" width="3" height="55" fill="#089981"/>
</g>
<rect x="14" y="180" width="1219" height="1" fill="url(#dots)" shape-rendering="crispEdges"/>
<g shape-rendering="crispEdges">
<rect x="904" y="138" width="30" height="386" fill="rgba(33,150,243,0.2)"/>
<rect x="904" y="138" width="30" height="1" fill="#2196f3"/>
<rect x="904" y="524" width="30" height="1" fill="#2196f3"/>
<rect x="918" y="139" width="1" height="385" fill="#2196f3"/>
</g>
<path d="M912.3 144.3 L918.5 138.6 L924.7 144.3" fill="none" stroke="#2196f3" stroke-width="1.2"/>
<rect x="837" y="100" width="163" height="26" rx="4" ry="4" fill="#2080d6"/>
<text x="846.2" y="118.3" font-size="12.5" fill="#ffffff" stroke="#ffffff" stroke-width="0.3" textLength="143.4" lengthAdjust="spacingAndGlyphs">0,10863 (105,77%) 10.863</text>
<text x="13.4" y="25" font-size="14.8" fill="#e6e6e6" stroke="#e6e6e6" stroke-width="0.35" textLength="99.5" lengthAdjust="spacingAndGlyphs">Kripto_Piyasasi</text>
<text x="117.5" y="25" font-size="14.8" fill="#e6e6e6" stroke="#e6e6e6" stroke-width="0.35" textLength="118.3" lengthAdjust="spacingAndGlyphs">TradingView.com,</text>
<text x="241.8" y="25" font-size="14.8" fill="#e6e6e6" stroke="#e6e6e6" stroke-width="0.35" textLength="18.4" lengthAdjust="spacingAndGlyphs">Nis</text>
<text x="266" y="25" font-size="14.8" fill="#e6e6e6" stroke="#e6e6e6" stroke-width="0.35" textLength="20.0" lengthAdjust="spacingAndGlyphs">30,</text>
<text x="292" y="25" font-size="14.8" fill="#e6e6e6" stroke="#e6e6e6" stroke-width="0.35" textLength="31.0" lengthAdjust="spacingAndGlyphs">2025</text>
<text x="329" y="25" font-size="14.8" fill="#e6e6e6" stroke="#e6e6e6" stroke-width="0.35" textLength="35.0" lengthAdjust="spacingAndGlyphs">13:54</text>
<text x="368.9" y="25" font-size="14.8" fill="#e6e6e6" stroke="#e6e6e6" stroke-width="0.35" textLength="43.0" lengthAdjust="spacingAndGlyphs">UTC+3</text>
<text x="416.9" y="25" font-size="14.8" fill="#e6e6e6" stroke="#e6e6e6" stroke-width="0.35" textLength="58.5" lengthAdjust="spacingAndGlyphs">tarihinde</text>
<text x="481.8" y="25" font-size="14.8" fill="#e6e6e6" stroke="#e6e6e6" stroke-width="0.35" textLength="68.2" lengthAdjust="spacingAndGlyphs">yayınlandı</text>
<text x="23" y="59" font-size="14.8" fill="#bdc0ca" stroke="#bdc0ca" stroke-width="0.3" textLength="31.0" lengthAdjust="spacingAndGlyphs">AIOT</text>
<text x="63.70" y="59" font-size="14.8" fill="#bdc0ca" stroke="#bdc0ca" stroke-width="0.3" text-anchor="middle">/</text>
<text x="72.4" y="59" font-size="14.8" fill="#bdc0ca" stroke="#bdc0ca" stroke-width="0.3" textLength="41.1" lengthAdjust="spacingAndGlyphs">Tether</text>
<text x="119.9" y="59" font-size="14.8" fill="#bdc0ca" stroke="#bdc0ca" stroke-width="0.3" textLength="77.0" lengthAdjust="spacingAndGlyphs">PERPETUAL</text>
<text x="200.9" y="59" font-size="14.8" fill="#bdc0ca" stroke="#bdc0ca" stroke-width="0.3" textLength="58.9" lengthAdjust="spacingAndGlyphs">FUTURES</text>
<text x="267.05" y="61.2" font-size="24" fill="#bdc0ca" text-anchor="middle">·</text>
<text x="275.9" y="59" font-size="14.8" fill="#bdc0ca" stroke="#bdc0ca" stroke-width="0.3" textLength="6.4" lengthAdjust="spacingAndGlyphs">5</text>
<text x="289.70" y="61.2" font-size="24" fill="#bdc0ca" text-anchor="middle">·</text>
<text x="297.6" y="59" font-size="14.8" fill="#bdc0ca" stroke="#bdc0ca" stroke-width="0.3" textLength="34.4" lengthAdjust="spacingAndGlyphs">MEXC</text>
<text x="342.3" y="59" font-size="14.8" fill="#bdc0ca" stroke="#bdc0ca" stroke-width="0.3" textLength="9.2" lengthAdjust="spacingAndGlyphs">A</text>
<text x="413.5" y="59" font-size="14.8" fill="#bdc0ca" stroke="#bdc0ca" stroke-width="0.3" textLength="8.4" lengthAdjust="spacingAndGlyphs">Y</text>
<text x="483.8" y="59" font-size="14.8" fill="#bdc0ca" stroke="#bdc0ca" stroke-width="0.3" textLength="8.0" lengthAdjust="spacingAndGlyphs">D</text>
<text x="555.2" y="59" font-size="14.8" fill="#bdc0ca" stroke="#bdc0ca" stroke-width="0.3" textLength="7.7" lengthAdjust="spacingAndGlyphs">K</text>
<text x="351.9" y="59" font-size="14.8" fill="#089981" stroke="#089981" stroke-width="0.3" textLength="51.0" lengthAdjust="spacingAndGlyphs">0,17649</text>
<text x="422.3" y="59" font-size="14.8" fill="#089981" stroke="#089981" stroke-width="0.3" textLength="51.1" lengthAdjust="spacingAndGlyphs">0,21137</text>
<text x="492.8" y="59" font-size="14.8" fill="#089981" stroke="#089981" stroke-width="0.3" textLength="51.9" lengthAdjust="spacingAndGlyphs">0,16550</text>
<text x="563.5" y="59" font-size="14.8" fill="#089981" stroke="#089981" stroke-width="0.3" textLength="50.3" lengthAdjust="spacingAndGlyphs">0,19551</text>
<text x="625" y="59" font-size="14.8" fill="#089981" stroke="#089981" stroke-width="0.3" textLength="60.2" lengthAdjust="spacingAndGlyphs">+0,01938</text>
<text x="691" y="59" font-size="14.8" fill="#089981" stroke="#089981" stroke-width="0.3" textLength="63.2" lengthAdjust="spacingAndGlyphs">(+11,00%)</text>
<text x="23.6" y="80" font-size="14.8" fill="#bdc0ca" stroke="#bdc0ca" stroke-width="0.3" textLength="40.8" lengthAdjust="spacingAndGlyphs">Hacim</text>
<text x="71.60" y="82.2" font-size="24" fill="#bdc0ca" text-anchor="middle">·</text>
<text x="79.6" y="80" font-size="14.8" fill="#bdc0ca" stroke="#bdc0ca" stroke-width="0.3" textLength="70.3" lengthAdjust="spacingAndGlyphs">Kademeler</text>
<text x="160.9" y="80" font-size="14.8" fill="#26a69a" stroke="#26a69a" stroke-width="0.3" textLength="42.0" lengthAdjust="spacingAndGlyphs">370,54</text>
<text x="207.9" y="80" font-size="14.8" fill="#26a69a" stroke="#26a69a" stroke-width="0.3" textLength="8.3" lengthAdjust="spacingAndGlyphs">K</text>
<text x="1244" y="119.7" font-size="14.8" fill="#b2b5be" stroke="#b2b5be" stroke-width="0.3" textLength="52.6" lengthAdjust="spacingAndGlyphs">0,22000</text>
<text x="1244" y="170.7" font-size="14.8" fill="#b2b5be" stroke="#b2b5be" stroke-width="0.3" textLength="52.6" lengthAdjust="spacingAndGlyphs">0,20000</text>
<text x="1244" y="227.7" font-size="14.8" fill="#b2b5be" stroke="#b2b5be" stroke-width="0.3" textLength="52.6" lengthAdjust="spacingAndGlyphs">0,18000</text>
<text x="1244" y="290.7" font-size="14.8" fill="#b2b5be" stroke="#b2b5be" stroke-width="0.3" textLength="52.6" lengthAdjust="spacingAndGlyphs">0,16000</text>
<text x="1244" y="342.7" font-size="14.8" fill="#b2b5be" stroke="#b2b5be" stroke-width="0.3" textLength="52.6" lengthAdjust="spacingAndGlyphs">0,14500</text>
<text x="1244" y="380.7" font-size="14.8" fill="#b2b5be" stroke="#b2b5be" stroke-width="0.3" textLength="52.6" lengthAdjust="spacingAndGlyphs">0,13500</text>
<text x="1244" y="422.7" font-size="14.8" fill="#b2b5be" stroke="#b2b5be" stroke-width="0.3" textLength="52.6" lengthAdjust="spacingAndGlyphs">0,12500</text>
<text x="1244" y="466.7" font-size="14.8" fill="#b2b5be" stroke="#b2b5be" stroke-width="0.3" textLength="52.6" lengthAdjust="spacingAndGlyphs">0,11500</text>
<text x="1244" y="557.7" font-size="14.8" fill="#b2b5be" stroke="#b2b5be" stroke-width="0.3" textLength="52.6" lengthAdjust="spacingAndGlyphs">0,09700</text>
<text x="1244" y="603.7" font-size="14.8" fill="#b2b5be" stroke="#b2b5be" stroke-width="0.3" textLength="52.6" lengthAdjust="spacingAndGlyphs">0,08900</text>
<text x="1244" y="647.7" font-size="14.8" fill="#b2b5be" stroke="#b2b5be" stroke-width="0.3" textLength="52.6" lengthAdjust="spacingAndGlyphs">0,08200</text>
<path d="M1234 128 H1302 a2 2 0 0 1 2 2 V147 a2 2 0 0 1 -2 2 H1234 Z" fill="#ffffff"/>
<text x="1245" y="142.4" font-size="14.8" fill="#131722" stroke="#131722" stroke-width="0.3" textLength="52.3" lengthAdjust="spacingAndGlyphs">0,21139</text>
<path d="M1234 170 H1302 a2 2 0 0 1 2 2 V206 a2 2 0 0 1 -2 2 H1234 Z" fill="#089981"/>
<text x="1245" y="184.2" font-size="14.8" fill="#ffffff" stroke="#ffffff" stroke-width="0.55" textLength="51.1" lengthAdjust="spacingAndGlyphs">0,19551</text>
<text x="1245" y="201.3" font-size="14.8" fill="rgba(255,255,255,0.78)" stroke="rgba(255,255,255,0.78)" stroke-width="0.3" textLength="36.3" lengthAdjust="spacingAndGlyphs">00:58</text>
<path d="M1234 505 H1305 a2 2 0 0 1 2 2 V524 a2 2 0 0 1 -2 2 H1234 Z" fill="#26a69a"/>
<text x="1245.4" y="520.4" font-size="14.8" fill="#ffffff" stroke="#ffffff" stroke-width="0.3" textLength="43.5" lengthAdjust="spacingAndGlyphs">370,54</text>
<text x="1292.8" y="520.4" font-size="14.8" fill="#ffffff" stroke="#ffffff" stroke-width="0.3" textLength="7.5" lengthAdjust="spacingAndGlyphs">K</text>
<path d="M1234 526 H1302 a2 2 0 0 1 2 2 V545 a2 2 0 0 1 -2 2 H1234 Z" fill="#ffffff"/>
<text x="1245.4" y="541.2" font-size="14.8" fill="#131722" stroke="#131722" stroke-width="0.3" textLength="51.7" lengthAdjust="spacingAndGlyphs">0,10266</text>
<rect x="1237.5" y="38.5" width="75" height="33" rx="5" ry="5" fill="#0f0f0f" stroke="#3a3a3a" stroke-width="1"/>
<text x="1249.2" y="60.3" font-size="15.4" fill="#d8d8d8" stroke="#d8d8d8" stroke-width="0.3" textLength="34.8" lengthAdjust="spacingAndGlyphs">USDT</text>
<rect x="1253" y="76" width="1" height="1" fill="#9598a1"/>
<text x="58.5" y="697.4" font-size="14.8" fill="#cdd0d9" font-weight="bold" textLength="16.5" lengthAdjust="spacingAndGlyphs">30</text>
<text x="194.5" y="697.4" font-size="14.8" fill="#b2b5be" stroke="#b2b5be" stroke-width="0.3" textLength="36.5" lengthAdjust="spacingAndGlyphs">03:00</text>
<text x="340.5" y="697.4" font-size="14.8" fill="#b2b5be" stroke="#b2b5be" stroke-width="0.3" textLength="36.5" lengthAdjust="spacingAndGlyphs">06:00</text>
<text x="487.5" y="697.4" font-size="14.8" fill="#b2b5be" stroke="#b2b5be" stroke-width="0.3" textLength="36.5" lengthAdjust="spacingAndGlyphs">09:00</text>
<text x="633.5" y="697.4" font-size="14.8" fill="#b2b5be" stroke="#b2b5be" stroke-width="0.3" textLength="36.5" lengthAdjust="spacingAndGlyphs">12:00</text>
<text x="779.5" y="697.4" font-size="14.8" fill="#b2b5be" stroke="#b2b5be" stroke-width="0.3" textLength="36.5" lengthAdjust="spacingAndGlyphs">15:00</text>
<text x="926.5" y="697.4" font-size="14.8" fill="#b2b5be" stroke="#b2b5be" stroke-width="0.3" textLength="36.5" lengthAdjust="spacingAndGlyphs">18:00</text>
<text x="1072.5" y="697.4" font-size="14.8" fill="#b2b5be" stroke="#b2b5be" stroke-width="0.3" textLength="36.5" lengthAdjust="spacingAndGlyphs">21:00</text>
<g fill="#e0e0e0">
<path d="M13 726 H23 V738 H17.7 V730.5 H13 Z"/>
<circle cx="26.7" cy="728.5" r="2.6"/>
<path d="M32.3 726 H37.4 L32.5 738 H27.3 Z"/>
</g>
<text x="42.8" y="737.7" font-size="14.8" fill="#e0e0e0" stroke="#e0e0e0" stroke-width="0.3" textLength="86.7" lengthAdjust="spacingAndGlyphs">TradingView</text>
</svg></body></html>
